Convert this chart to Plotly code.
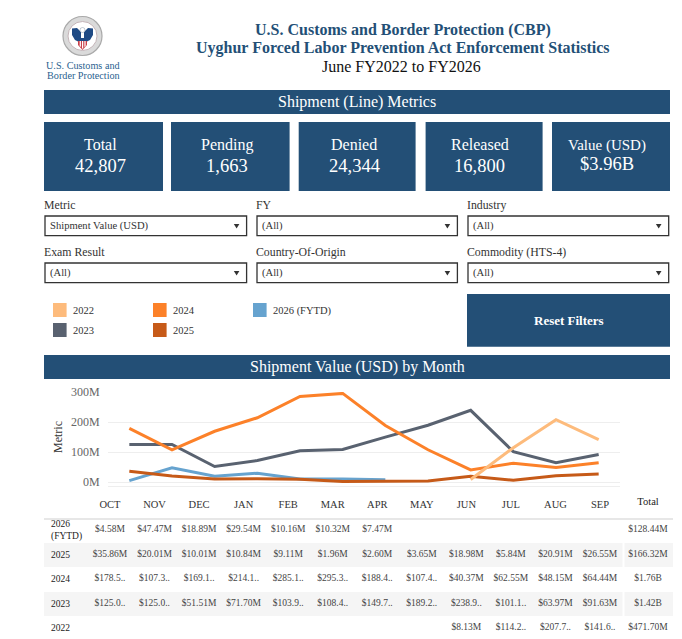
import plotly.graph_objects as go

W, H = 682, 639
SERIF = "Liberation Serif"
NAVY = "#234F76"

months = ["OCT", "NOV", "DEC", "JAN", "FEB", "MAR", "APR", "MAY", "JUN", "JUL", "AUG", "SEP"]

# Values in USD millions
v2022 = [None, None, None, None, None, None, None, None, 8.13, 114.2, 207.7, 141.6]
v2023 = [125.0, 125.0, 51.51, 71.70, 103.9, 108.4, 149.7, 189.2, 238.9, 101.1, 63.97, 91.63]
v2024 = [178.5, 107.3, 169.1, 214.1, 285.1, 295.3, 188.4, 107.4, 40.37, 62.55, 48.15, 64.44]
v2025 = [35.86, 20.01, 10.01, 10.84, 9.11, 1.96, 2.60, 3.65, 18.98, 5.84, 20.91, 26.55]
v2026 = [4.58, 47.47, 18.89, 29.54, 10.16, 10.32, 7.47, None, None, None, None, None]

# Table text as displayed (the dashboard truncates the long ones)
t2022 = ["", "", "", "", "", "", "", "", "$8.13M", "$114.2..", "$207.7..", "$141.6.."]
t2023 = ["$125.0..", "$125.0..", "$51.51M", "$71.70M", "$103.9..", "$108.4..", "$149.7..", "$189.2..", "$238.9..", "$101.1..", "$63.97M", "$91.63M"]
t2024 = ["$178.5..", "$107.3..", "$169.1..", "$214.1..", "$285.1..", "$295.3..", "$188.4..", "$107.4..", "$40.37M", "$62.55M", "$48.15M", "$64.44M"]
t2025 = ["$35.86M", "$20.01M", "$10.01M", "$10.84M", "$9.11M", "$1.96M", "$2.60M", "$3.65M", "$18.98M", "$5.84M", "$20.91M", "$26.55M"]
t2026 = ["$4.58M", "$47.47M", "$18.89M", "$29.54M", "$10.16M", "$10.32M", "$7.47M", "", "", "", "", ""]
row_names = ["2022", "2023", "2024", "2025", "2026 (FYTD)"]
row_labels = ["2022", "2023", "2024", "2025", "2026<br>(FYTD)"]
row_text = [t2022, t2023, t2024, t2025, t2026]
row_totals = ["$471.70M", "$1.42B", "$1.76B", "$166.32M", "$128.44M"]

colors = {"2022": "#FDBB7C", "2023": "#596270", "2024": "#FC8129", "2025": "#C65A18", "2026 (FYTD)": "#66A3CF"}

kpi_labels = ["Total", "Pending", "Denied", "Released", "Value (USD)"]
kpi_values = ["42,807", "1,663", "24,344", "16,800", "$3.96B"]
tick_vals = [0, 100, 200, 300]
tick_text = ["0M", "100M", "200M", "300M"]


def px(x):
    return x / W


def py(y):
    return 1 - y / H


def rect(x0, y0, x1, y1, fill, line=None, lw=0):
    return dict(type="rect", xref="paper", yref="paper", x0=px(x0), x1=px(x1), y0=py(y0), y1=py(y1),
                fillcolor=fill, line=dict(color=line or fill, width=lw), layer="below")


def path(points, fill):
    d = "M" + " L".join(f"{px(a):.5f},{py(b):.5f}" for a, b in points) + " Z"
    return dict(type="path", xref="paper", yref="paper", path=d, fillcolor=fill, line=dict(width=0), layer="below")


def circle(cx, cy, r, fill, line, lw=1):
    return dict(type="circle", xref="paper", yref="paper", x0=px(cx - r), x1=px(cx + r), y0=py(cy + r), y1=py(cy - r),
                fillcolor=fill, line=dict(color=line, width=lw), layer="below")


def label(x, y, text, size, color="#333333", anchor="center", bold=False, angle=0):
    if bold:
        text = f"<b>{text}</b>"
    return dict(xref="paper", yref="paper", x=px(x), y=py(y), text=text, showarrow=False, xanchor=anchor,
                yanchor="middle", textangle=angle, borderpad=0, font=dict(family=SERIF, size=size, color=color))


shapes = []
notes = []

# Logo, roughly drawn
shapes += [circle(82.5, 36, 19.5, "#DADADA", "#A9A9A9", 1.2), circle(82.5, 36, 14.5, "#FFFFFF", "#C4B4B8", 1)]
shapes.append(path([(81, 32), (77, 28), (72, 28.5), (72, 35), (75, 40), (79, 42), (81, 40)], "#1F4A84"))
shapes.append(path([(84, 32), (88, 28), (93, 28.5), (93, 35), (90, 40), (86, 42), (84, 40)], "#1F4A84"))
shapes.append(path([(78, 38), (87, 38), (87, 45), (82.5, 50), (78, 45)], "#C9404A"))
shapes.append(path([(78, 38), (87, 38), (87, 41), (78, 41)], "#1F4A84"))
shapes.append(path([(79.7, 41), (80.9, 41), (80.9, 47), (79.7, 46)], "#FFFFFF"))
shapes.append(path([(82, 41), (83.2, 41), (83.2, 48.5), (82, 48.5)], "#FFFFFF"))
shapes.append(path([(84.4, 41), (85.6, 41), (85.6, 46), (84.4, 47)], "#FFFFFF"))
shapes.append(circle(82.5, 30, 2.5, "#FFFFFF", "#8899AA", 0.5))
notes.append(label(83, 65, "U.S. Customs and", 10.2, "#2A5F90"))
notes.append(label(83, 75, "Border Protection", 10.2, "#2A5F90"))

# Heading
notes.append(label(403, 30, "U.S. Customs and Border Protection (CBP)", 16, NAVY, bold=True))
notes.append(label(403, 48, "Uyghur Forced Labor Prevention Act Enforcement Statistics", 16, NAVY, bold=True))
notes.append(label(401, 66, "June FY2022 to FY2026", 16, "#111111"))

# Section bars
shapes.append(rect(44, 90, 670, 114, NAVY))
notes.append(label(357, 102, "Shipment (Line) Metrics", 16, "#FFFFFF"))
shapes.append(rect(44, 355, 670, 379, NAVY))
notes.append(label(357, 367, "Shipment Value (USD) by Month", 16, "#FFFFFF"))

# KPI cards
kpi_left = [44, 171, 298.7, 425.6, 552]
kpi_right = [163, 289.6, 415.6, 542.6, 670]
kpi_mid = [100.5, 227, 354, 479.5, 607]
for i in range(5):
    shapes.append(rect(kpi_left[i], 122, kpi_right[i], 191, NAVY))
    small = kpi_labels[i] == "Value (USD)"
    notes.append(label(kpi_mid[i], 146 if small else 145, kpi_labels[i], 15 if small else 16, "#FFFFFF"))
    notes.append(label(kpi_mid[i], 164 if small else 166, kpi_values[i], 18.5, "#FFFFFF"))

# Filters
filter_names = ["Metric", "FY", "Industry", "Exam Result", "Country-Of-Origin", "Commodity (HTS-4)"]
filter_values = ["Shipment Value (USD)", "(All)", "(All)", "(All)", "(All)", "(All)"]
box_left = [45, 257, 468]
box_right = [246.6, 457.4, 668.7]
box_top = [216, 263]
for i in range(6):
    c, r = i % 3, i // 3
    top = box_top[r]
    shapes.append(rect(box_left[c], top, box_right[c], top + 19.7, "#FFFFFF", "#333333", 1.3))
    notes.append(label(box_left[c] - 2, top - 11, filter_names[i], 11.8, "#333333", anchor="left"))
    notes.append(label(box_left[c] + 4, top + 10, filter_values[i], 10.6, "#333333", anchor="left"))
    ax = box_right[c] - 10
    shapes.append(path([(ax - 2.8, top + 8), (ax + 2.8, top + 8), (ax, top + 12.5)], "#333333"))

# Legend swatches
leg_x = [53, 53, 153, 153, 253]
leg_y = [303, 323, 303, 323, 303]
for i, name in enumerate(row_names):
    shapes.append(rect(leg_x[i], leg_y[i], leg_x[i] + 13.6, leg_y[i] + 14, colors[name]))
    notes.append(label(leg_x[i] + 18.5, leg_y[i] + 7.5, name, 10.5, "#333333", anchor="left"))

# Reset button
shapes.append(rect(467, 294, 670, 346.7, NAVY))
notes.append(label(568.5, 320.5, "Reset Filters", 13, "#FFFFFF", bold=True))

notes.append(label(58, 437, "Metric", 12, "#333333", angle=-90))

# Table bands and rule
for top in [543, 592]:
    shapes.append(rect(44, top, 622.5, top + 24, "#F5F5F5"))
    shapes.append(rect(624.5, top, 673, top + 24, "#F5F5F5"))
shapes.append(rect(44, 518.6, 673, 519.6, "#CFCFCF"))

# Row headers sit on the table's y axis, left aligned
for i, txt in enumerate(row_labels):
    notes.append(dict(xref="paper", yref="y2", x=px(49), y=i, text=txt, showarrow=False, xanchor="left",
                      yanchor="middle", align="left", font=dict(family=SERIF, size=9.5, color="#222222")))

fig = go.Figure()

# Line chart
for name, vals in [("2023", v2023), ("2024", v2024), ("2026 (FYTD)", v2026), ("2025", v2025), ("2022", v2022)]:
    fig.add_trace(go.Scatter(x=months, y=vals, mode="lines", name=name, xaxis="x", yaxis="y",
                             line=dict(color=colors[name], width=3), cliponaxis=False,
                             showlegend=False))

# Table body
for name, txt in zip(row_names, row_text):
    fig.add_trace(go.Scatter(x=months, y=[name] * 12, mode="text", text=txt, xaxis="x2", yaxis="y2",
                             textposition="middle center", cliponaxis=False, showlegend=False,
                             textfont=dict(family=SERIF, size=9.5, color="#444444")))
fig.add_trace(go.Scatter(x=["Total"] * 5, y=row_names, mode="text", text=row_totals, xaxis="x3", yaxis="y2",
                         textposition="middle center", cliponaxis=False, showlegend=False,
                         textfont=dict(family=SERIF, size=9.5, color="#444444")))

fig.update_layout(
    width=W, height=H, autosize=False, margin=dict(l=0, r=0, t=0, b=0, pad=0),
    paper_bgcolor="#FFFFFF", plot_bgcolor="rgba(0,0,0,0)",
    shapes=shapes, annotations=notes,
    font=dict(family=SERIF),
    xaxis=dict(domain=[px(108), px(620)], type="category", categoryarray=months, range=[-0.5, 11.5], automargin=False,
               showticklabels=False, ticks="", showgrid=False, showline=True, linecolor="#EEEEEE", linewidth=1,
               zeroline=False, anchor="y", fixedrange=True),
    yaxis=dict(domain=[py(486), py(392)], range=[-13.3, 300], tickvals=tick_vals, ticktext=tick_text, automargin=False,
               gridcolor="#EEEEEE", gridwidth=1, zeroline=False, showline=False, ticks="outside", ticklen=5,
               tickcolor="rgba(0,0,0,0)", tickfont=dict(family=SERIF, size=12, color="#666666"),
               anchor="x", fixedrange=True),
    xaxis2=dict(domain=[px(87.75), px(622.25)], type="category", categoryarray=months, range=[-0.5, 11.5], automargin=False,
                side="top", ticks="outside", ticklen=5, tickcolor="rgba(0,0,0,0)", showgrid=False, zeroline=False,
                showline=False, tickfont=dict(family=SERIF, size=10.5, color="#333333"), anchor="y2", fixedrange=True),
    xaxis3=dict(domain=[px(625), px(671)], type="category", categoryarray=["Total"], range=[-0.5, 0.5], automargin=False,
                side="top", ticks="outside", ticklen=8, tickcolor="rgba(0,0,0,0)", showgrid=False, zeroline=False,
                showline=False, tickfont=dict(family=SERIF, size=10.5, color="#222222"), anchor="y2", fixedrange=True),
    yaxis2=dict(domain=[0, py(518)], type="category", categoryarray=row_names, range=[-0.449, 4.49], automargin=False,
                showticklabels=False, ticks="", showgrid=False, zeroline=False, showline=False,
                anchor="x2", fixedrange=True),
)

fig.write_html("out.html", config={"displayModeBar": False}, post_script="document.body.style.margin='0';")
